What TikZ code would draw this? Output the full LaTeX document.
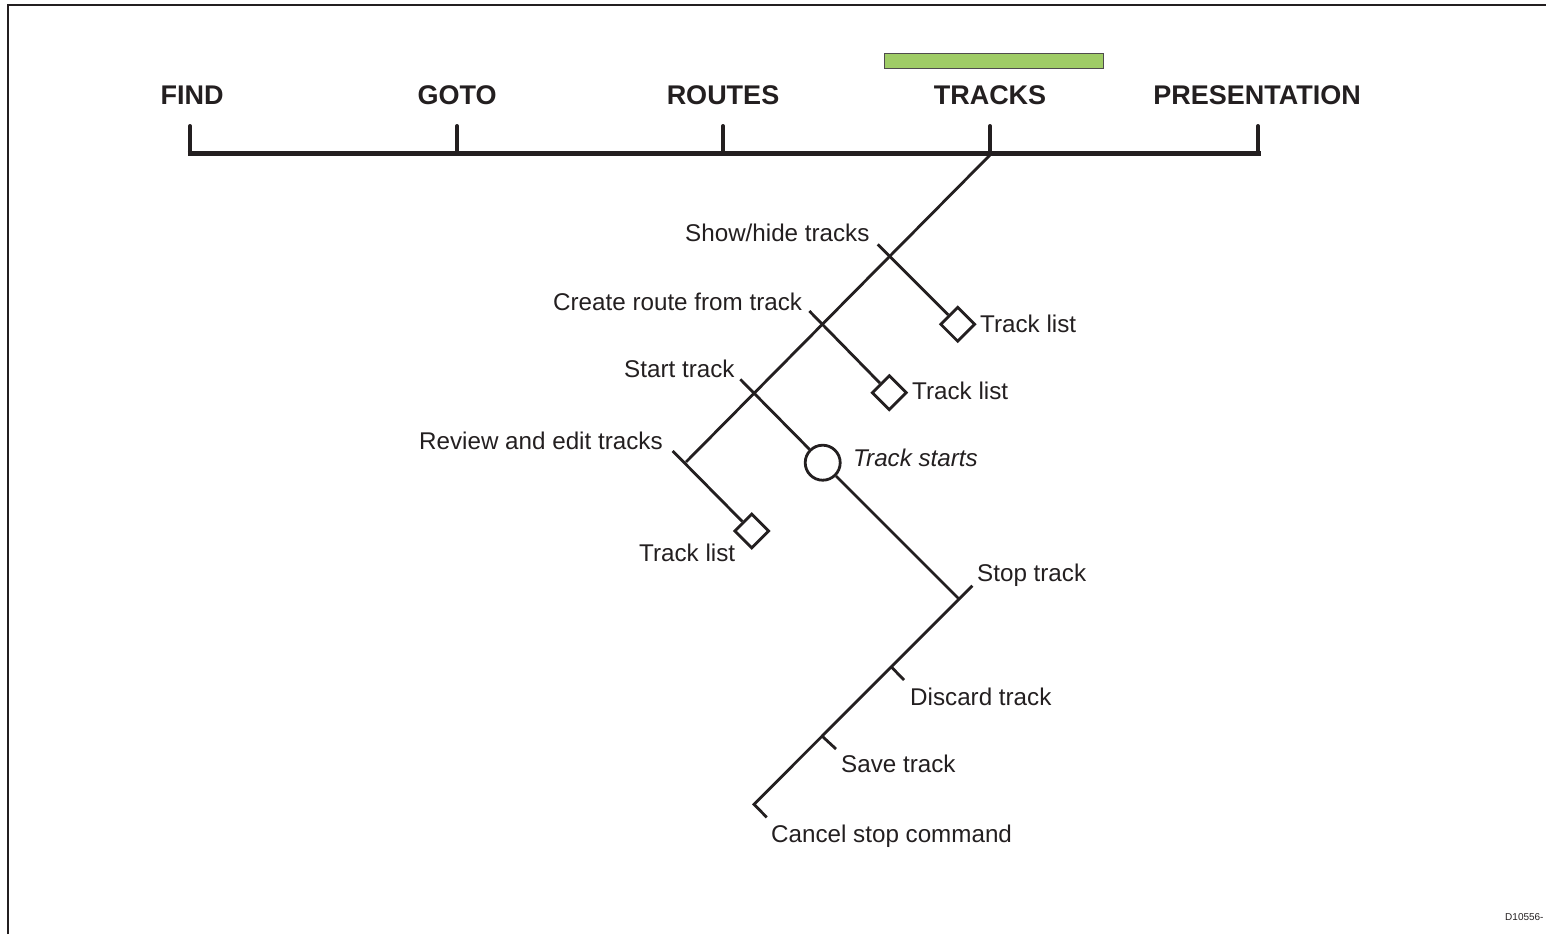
\documentclass[tikz,border=0pt]{standalone}
\usepackage{fontspec}
\setmainfont{Liberation Sans}
\usetikzlibrary{shapes.geometric}
\definecolor{ink}{HTML}{231F20}
\definecolor{tabgreen}{HTML}{9FCC66}
\begin{document}
\begin{tikzpicture}[x=1pt,y=-1pt,
  menu/.style={font=\fontsize{27}{30}\selectfont\bfseries, text=ink, anchor=base, inner sep=0},
  lbl/.style={font=\fontsize{24.2}{28}\selectfont, text=ink, anchor=base west, inner sep=0},
  tiny/.style={font=\fontsize{10}{12}\selectfont, text=ink, anchor=base west, inner sep=0},
  bar/.style={draw=ink, line width=5pt},
  tabtick/.style={draw=ink, line width=4pt},
  branch/.style={draw=ink, line width=2.8pt},
  dia/.style={shape=diamond, draw=ink, line width=2.8pt, minimum size=35pt, inner sep=0, fill=white},
  ring/.style={shape=circle, draw=ink, line width=2.8pt, minimum size=35pt, inner sep=0, fill=white},
  frame/.style={draw=ink, line width=2pt}]
\useasboundingbox (0,0) rectangle (1546,934);
% frame
\draw[frame] (8,934) -- (8,5) -- (1546,5);
% green tab marker
\node[draw=ink!80, line width=1.2pt, fill=tabgreen, minimum width=219pt, minimum height=15pt, inner sep=0, anchor=north west] (tab) at (884,53) {};
% menu labels
\node[menu] (find) at (192,104.7) {FIND};
\node[menu] (goto) at (457,104.7) {GOTO};
\node[menu] (routes) at (723,104.7) {ROUTES};
\node[menu] (tracks) at (990,104.7) {TRACKS};
\node[menu] (pres) at (1257,104.7) {PRESENTATION};
% tab ticks
\coordinate (b1) at (190,153); \coordinate (u1) at (190,126);
\coordinate (b2) at (457,153); \coordinate (u2) at (457,126);
\coordinate (b3) at (723,153); \coordinate (u3) at (723,126);
\coordinate (b4) at (990,153); \coordinate (u4) at (990,126);
\coordinate (b5) at (1258,153); \coordinate (u5) at (1258,126);
\draw[bar] (187.5,153) -- (1260.5,153);
\foreach \i in {1,...,5} {\draw[tabtick, line cap=round] (u\i) -- (b\i);}
% main diagonal
\coordinate (top) at (990,155);
\coordinate (rj) at (686,462);
\draw[branch] (top) -- (rj);
% show/hide branch
\coordinate (s1) at (877.7,244.3);
\node[dia] (d1) at (957.7,324.3) {};
\draw[branch] (s1) -- (d1);
% create route branch
\coordinate (s2) at (809.3,311);
\node[dia] (d2) at (889.3,392.7) {};
\draw[branch] (s2) -- (d2);
% start track branch
\coordinate (s3) at (740.3,379.3);
\node[ring] (c3) at (822.7,462.7) {};
\coordinate (sj) at (958.3,598.3);
\draw[branch] (s3) -- (c3);
\draw[branch] (c3) -- (sj);
% stop track line
\coordinate (st) at (972.3,585.7);
\coordinate (cb) at (754,804.3);
\coordinate (ce) at (766.7,817.3);
\draw[branch] (st) -- (cb) -- (ce);
\coordinate (dj) at (891.7,667.3); \coordinate (de) at (904,680);
\draw[branch] (dj) -- (de);
\coordinate (vj) at (822.7,736.7); \coordinate (ve) at (836,749);
\draw[branch] (vj) -- (ve);
% review branch
\coordinate (s4) at (672.7,451);
\node[dia] (d4) at (751.7,531) {};
\draw[branch] (s4) -- (d4);
% labels
\node[lbl] (l1) at (685,241.7) {Show/hide tracks};
\node[lbl] (l2) at (553,310) {Create route from track};
\node[lbl] (l3) at (624,377.5) {Start track};
\node[lbl] (l4) at (419,449) {Review and edit tracks};
\node[lbl] (tl1) at (980,332.6) {Track list};
\node[lbl] (tl2) at (912,399.6) {Track list};
\node[lbl] (tl4) at (639,561) {Track list};
\node[lbl, font=\fontsize{24.2}{28}\selectfont\itshape] (ts) at (853,466.6) {Track starts};
\node[lbl] (stop) at (977,581) {Stop track};
\node[lbl] (disc) at (910,705.7) {Discard track};
\node[lbl] (save) at (841,772.7) {Save track};
\node[lbl] (canc) at (771,842.3) {Cancel stop command};
\node[tiny] (code) at (1505,920) {D10556-};
\end{tikzpicture}
\end{document}
